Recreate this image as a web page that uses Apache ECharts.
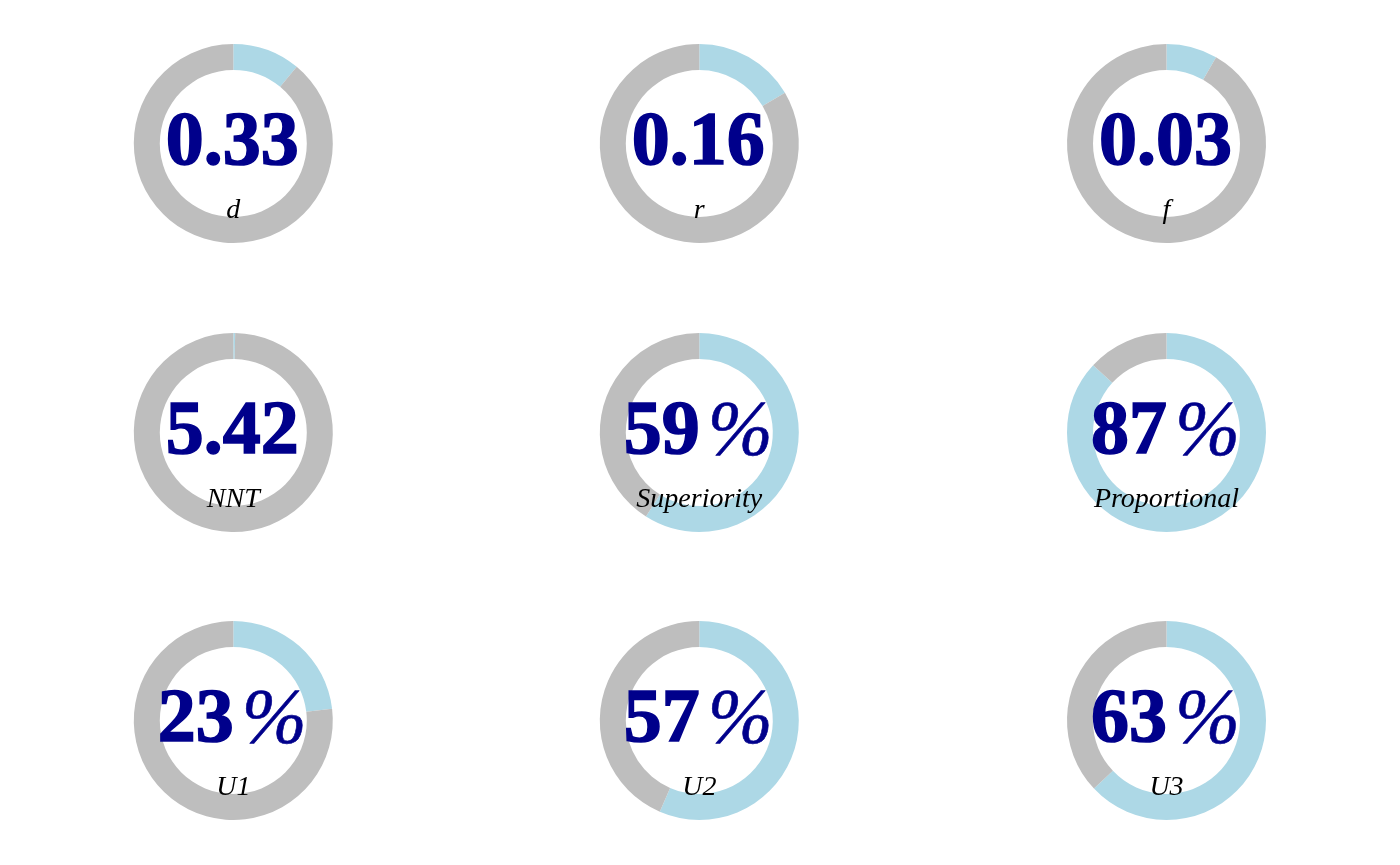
<!DOCTYPE html>
<html>
<head>
<meta charset="utf-8">
<script src="https://cdn.jsdelivr.net/npm/echarts@6/dist/echarts.min.js"></script>
<style>html,body{margin:0;padding:0;background:#fff}#c{width:1400px;height:865px}</style>
</head>
<body>
<div id="c"></div>
<script>
// Data
const names = ['d', 'r', 'f', 'NNT', 'Superiority', 'Proportional', 'U1', 'U2', 'U3'];
const valueLabels = ['0.33', '0.16', '0.03', '5.42', '59%', '87%', '23%', '57%', '63%'];
const fractions = [0.11, 0.165, 0.083, 0.003, 0.59, 0.868, 0.231, 0.565, 0.63];

// Layout (styles)
const colX = [233.3, 699.3, 1166.5];
const rowY = [143.5, 432.5, 720.5];
const BLUE = '#ADD8E6', GRAY = '#BEBEBE', NAVY = '#00008B';
const SERIF = '"Liberation Serif", "Times New Roman", serif';

const chart = echarts.init(document.getElementById('c'), null, {renderer: 'canvas'});
const series = [];
const graphics = [];
names.forEach((n, i) => {
  const cx = colX[i % 3], cy = rowY[Math.floor(i / 3)];
  series.push({
    type: 'pie',
    center: [cx, cy],
    radius: [73.5, 99.5],
    startAngle: 90,
    clockwise: true,
    silent: true,
    label: {show: false},
    labelLine: {show: false},
    emphasis: {disabled: true},
    itemStyle: {borderWidth: 0},
    minAngle: 0,
    data: [
      {value: fractions[i], itemStyle: {color: BLUE}},
      {value: 1 - fractions[i], itemStyle: {color: GRAY}}
    ]
  });
  const lbl = valueLabels[i];
  const txt = lbl.endsWith('%') ? '{v|' + lbl.slice(0, -1) + '}{p|%}' : '{v|' + lbl + '}';
  graphics.push({
    type: 'text', x: cx - 1, y: cy + 1, z: 10,
    style: {
      text: txt, textAlign: 'center', textVerticalAlign: 'middle',
      rich: {
        v: {fill: NAVY, stroke: NAVY, lineWidth: 1.6, fontSize: 76, fontWeight: 'bold', fontFamily: SERIF, lineHeight: 80},
        p: {fill: NAVY, stroke: NAVY, lineWidth: 0.6, fontSize: 78, fontStyle: 'italic', fontWeight: 'normal', fontFamily: SERIF, lineHeight: 80, padding: [0, 0, 0, 8]}
      }
    }
  });
  graphics.push({
    type: 'text', x: cx, y: cy + 67, z: 10,
    style: {text: n, fill: '#000', font: 'italic 28px ' + SERIF,
      textAlign: 'center', textVerticalAlign: 'middle'}
  });
});

chart.setOption({
  animation: false,
  backgroundColor: '#fff',
  series: series,
  graphic: graphics
});
</script>
</body>
</html>
